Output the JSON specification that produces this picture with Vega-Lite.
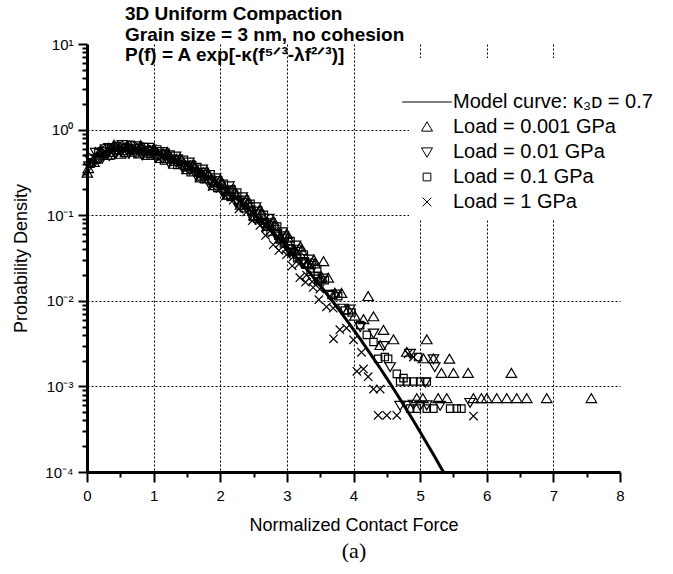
{
"$schema": "https://vega.github.io/schema/vega-lite/v6.json",
"width": 533, "height": 428,
"autosize": {"type": "none"},
"padding": {"left": 87, "top": 44, "right": 53, "bottom": 102},
"background": "white",
"config": {"view": {"stroke": null}, "font": "Liberation Sans"},
"title": {"text": ["3D Uniform Compaction", "Grain size = 3 nm, no cohesion", "P(f) = A exp[-κ(f⁵ᐟ³-λf²ᐟ³)]"], "anchor": "start", "frame": "group", "orient": "top", "offset": 0, "dx": 38, "dy": 28, "baseline": "top", "font": "Liberation Sans", "fontSize": 19, "fontWeight": "bold", "lineHeight": 20.5, "color": "black"},
"datasets": {
"points": [
{"f":0.02,"p":0.35,"s":"0.001"},{"f":0.12,"p":0.455,"s":"0.001"},{"f":0.22,"p":0.552,"s":"0.001"},{"f":0.32,"p":0.542,"s":"0.001"},{"f":0.42,"p":0.626,"s":"0.001"},{"f":0.52,"p":0.568,"s":"0.001"},{"f":0.62,"p":0.618,"s":"0.001"},{"f":0.72,"p":0.577,"s":"0.001"},{"f":0.82,"p":0.593,"s":"0.001"},{"f":0.92,"p":0.529,"s":"0.001"},{"f":1.02,"p":0.566,"s":"0.001"},{"f":1.12,"p":0.491,"s":"0.001"},{"f":1.22,"p":0.494,"s":"0.001"},{"f":1.32,"p":0.424,"s":"0.001"},{"f":1.42,"p":0.437,"s":"0.001"},{"f":1.52,"p":0.366,"s":"0.001"},{"f":1.62,"p":0.355,"s":"0.001"},{"f":1.72,"p":0.286,"s":"0.001"},{"f":1.82,"p":0.294,"s":"0.001"},{"f":1.92,"p":0.241,"s":"0.001"},{"f":2.02,"p":0.233,"s":"0.001"},{"f":2.12,"p":0.173,"s":"0.001"},{"f":2.22,"p":0.18,"s":"0.001"},{"f":2.32,"p":0.139,"s":"0.001"},{"f":2.42,"p":0.137,"s":"0.001"},{"f":2.52,"p":0.096,"s":"0.001"},{"f":2.62,"p":0.103,"s":"0.001"},{"f":2.72,"p":0.0793,"s":"0.001"},{"f":2.82,"p":0.0753,"s":"0.001"},{"f":2.92,"p":0.0525,"s":"0.001"},{"f":3.02,"p":0.0537,"s":"0.001"},{"f":3.12,"p":0.0389,"s":"0.001"},{"f":3.22,"p":0.0386,"s":"0.001"},{"f":3.32,"p":0.0269,"s":"0.001"},{"f":3.42,"p":0.027,"s":"0.001"},{"f":3.52,"p":0.0189,"s":"0.001"},{"f":3.55,"p":0.0286,"s":"0.001"},{"f":3.62,"p":0.0184,"s":"0.001"},{"f":3.72,"p":0.0123,"s":"0.001"},{"f":3.82,"p":0.0122,"s":"0.001"},{"f":3.92,"p":0.0078,"s":"0.001"},{"f":4.02,"p":0.0066,"s":"0.001"},
{"f":0.005,"p":0.31,"s":"0.001"},{"f":0.105,"p":0.414,"s":"0.001"},{"f":0.205,"p":0.573,"s":"0.001"},{"f":0.305,"p":0.5,"s":"0.001"},{"f":0.405,"p":0.659,"s":"0.001"},{"f":0.505,"p":0.514,"s":"0.001"},{"f":0.605,"p":0.643,"s":"0.001"},{"f":0.705,"p":0.544,"s":"0.001"},{"f":0.805,"p":0.648,"s":"0.001"},{"f":0.905,"p":0.499,"s":"0.001"},{"f":1.005,"p":0.592,"s":"0.001"},{"f":1.105,"p":0.459,"s":"0.001"},{"f":1.205,"p":0.542,"s":"0.001"},{"f":1.305,"p":0.393,"s":"0.001"},{"f":1.405,"p":0.454,"s":"0.001"},{"f":1.505,"p":0.34,"s":"0.001"},{"f":1.605,"p":0.384,"s":"0.001"},{"f":1.705,"p":0.272,"s":"0.001"},{"f":1.805,"p":0.319,"s":"0.001"},{"f":1.905,"p":0.221,"s":"0.001"},{"f":2.005,"p":0.256,"s":"0.001"},{"f":2.105,"p":0.171,"s":"0.001"},{"f":2.205,"p":0.198,"s":"0.001"},{"f":2.305,"p":0.131,"s":"0.001"},{"f":2.405,"p":0.153,"s":"0.001"},{"f":2.505,"p":0.0988,"s":"0.001"},{"f":2.605,"p":0.114,"s":"0.001"},{"f":2.705,"p":0.074,"s":"0.001"},{"f":2.805,"p":0.0837,"s":"0.001"},{"f":2.905,"p":0.054,"s":"0.001"},{"f":3.005,"p":0.0594,"s":"0.001"},{"f":3.105,"p":0.0383,"s":"0.001"},{"f":3.205,"p":0.0426,"s":"0.001"},{"f":3.305,"p":0.0266,"s":"0.001"},{"f":3.405,"p":0.0298,"s":"0.001"},{"f":3.505,"p":0.018,"s":"0.001"},
{"f":4.15,"p":0.006,"s":"0.001"},{"f":4.22,"p":0.0112,"s":"0.001"},{"f":4.3,"p":0.0065,"s":"0.001"},{"f":4.4,"p":0.003,"s":"0.001"},{"f":4.45,"p":0.0045,"s":"0.001"},{"f":4.6,"p":0.0035,"s":"0.001"},{"f":4.8,"p":0.0025,"s":"0.001"},{"f":5.05,"p":0.0021,"s":"0.001"},{"f":5.1,"p":0.0035,"s":"0.001"},{"f":5.2,"p":0.0021,"s":"0.001"},{"f":5.44,"p":0.00208,"s":"0.001"},{"f":5.32,"p":0.00142,"s":"0.001"},{"f":5.5,"p":0.00142,"s":"0.001"},{"f":5.72,"p":0.00142,"s":"0.001"},{"f":6.37,"p":0.00142,"s":"0.001"},{"f":4.95,"p":0.00072,"s":"0.001"},{"f":5.04,"p":0.00072,"s":"0.001"},{"f":5.27,"p":0.00072,"s":"0.001"},{"f":5.4,"p":0.00072,"s":"0.001"},{"f":5.8,"p":0.00072,"s":"0.001"},{"f":5.92,"p":0.00072,"s":"0.001"},{"f":6.0,"p":0.00072,"s":"0.001"},{"f":6.15,"p":0.00072,"s":"0.001"},{"f":6.3,"p":0.00072,"s":"0.001"},{"f":6.45,"p":0.00072,"s":"0.001"},{"f":6.6,"p":0.00072,"s":"0.001"},{"f":6.9,"p":0.00072,"s":"0.001"},{"f":7.57,"p":0.00072,"s":"0.001"},
{"f":0.045,"p":0.454,"s":"0.01"},{"f":0.145,"p":0.457,"s":"0.01"},{"f":0.245,"p":0.556,"s":"0.01"},{"f":0.345,"p":0.598,"s":"0.01"},{"f":0.445,"p":0.56,"s":"0.01"},{"f":0.545,"p":0.623,"s":"0.01"},{"f":0.645,"p":0.575,"s":"0.01"},{"f":0.745,"p":0.604,"s":"0.01"},{"f":0.845,"p":0.549,"s":"0.01"},{"f":0.945,"p":0.574,"s":"0.01"},{"f":1.045,"p":0.501,"s":"0.01"},{"f":1.145,"p":0.523,"s":"0.01"},{"f":1.245,"p":0.453,"s":"0.01"},{"f":1.345,"p":0.451,"s":"0.01"},{"f":1.445,"p":0.379,"s":"0.01"},{"f":1.545,"p":0.386,"s":"0.01"},{"f":1.645,"p":0.317,"s":"0.01"},{"f":1.745,"p":0.317,"s":"0.01"},{"f":1.845,"p":0.257,"s":"0.01"},{"f":1.945,"p":0.253,"s":"0.01"},{"f":2.045,"p":0.196,"s":"0.01"},{"f":2.145,"p":0.198,"s":"0.01"},{"f":2.245,"p":0.149,"s":"0.01"},{"f":2.345,"p":0.15,"s":"0.01"},{"f":2.445,"p":0.115,"s":"0.01"},{"f":2.545,"p":0.112,"s":"0.01"},{"f":2.645,"p":0.078,"s":"0.01"},{"f":2.745,"p":0.0815,"s":"0.01"},{"f":2.845,"p":0.0605,"s":"0.01"},{"f":2.945,"p":0.0574,"s":"0.01"},{"f":3.045,"p":0.0372,"s":"0.01"},{"f":3.145,"p":0.0401,"s":"0.01"},{"f":3.245,"p":0.0287,"s":"0.01"},{"f":3.345,"p":0.0276,"s":"0.01"},{"f":3.445,"p":0.0179,"s":"0.01"},{"f":3.545,"p":0.0184,"s":"0.01"},{"f":3.645,"p":0.0119,"s":"0.01"},{"f":3.745,"p":0.012,"s":"0.01"},{"f":3.845,"p":0.0082,"s":"0.01"},{"f":3.945,"p":0.008,"s":"0.01"},
{"f":0.03,"p":0.378,"s":"0.01"},{"f":0.13,"p":0.542,"s":"0.01"},{"f":0.23,"p":0.466,"s":"0.01"},{"f":0.33,"p":0.617,"s":"0.01"},{"f":0.43,"p":0.523,"s":"0.01"},{"f":0.53,"p":0.669,"s":"0.01"},{"f":0.63,"p":0.529,"s":"0.01"},{"f":0.73,"p":0.647,"s":"0.01"},{"f":0.83,"p":0.506,"s":"0.01"},{"f":0.93,"p":0.622,"s":"0.01"},{"f":1.03,"p":0.478,"s":"0.01"},{"f":1.13,"p":0.553,"s":"0.01"},{"f":1.23,"p":0.415,"s":"0.01"},{"f":1.33,"p":0.492,"s":"0.01"},{"f":1.43,"p":0.364,"s":"0.01"},{"f":1.53,"p":0.418,"s":"0.01"},{"f":1.63,"p":0.301,"s":"0.01"},{"f":1.73,"p":0.346,"s":"0.01"},{"f":1.83,"p":0.237,"s":"0.01"},{"f":1.93,"p":0.274,"s":"0.01"},{"f":2.03,"p":0.189,"s":"0.01"},{"f":2.13,"p":0.22,"s":"0.01"},{"f":2.23,"p":0.143,"s":"0.01"},{"f":2.33,"p":0.164,"s":"0.01"},{"f":2.43,"p":0.111,"s":"0.01"},{"f":2.53,"p":0.125,"s":"0.01"},{"f":2.63,"p":0.0802,"s":"0.01"},{"f":2.73,"p":0.0922,"s":"0.01"},{"f":2.83,"p":0.0592,"s":"0.01"},{"f":2.93,"p":0.0638,"s":"0.01"},{"f":3.03,"p":0.0404,"s":"0.01"},{"f":3.13,"p":0.0447,"s":"0.01"},{"f":3.23,"p":0.0284,"s":"0.01"},{"f":3.33,"p":0.0307,"s":"0.01"},{"f":3.43,"p":0.0195,"s":"0.01"},
{"f":4.1,"p":0.005,"s":"0.01"},{"f":4.3,"p":0.0042,"s":"0.01"},{"f":4.45,"p":0.003,"s":"0.01"},{"f":4.55,"p":0.0017,"s":"0.01"},{"f":4.85,"p":0.00244,"s":"0.01"},{"f":5.08,"p":0.00112,"s":"0.01"},{"f":5.2,"p":0.0021,"s":"0.01"},{"f":5.22,"p":0.0017,"s":"0.01"},{"f":4.7,"p":0.0006,"s":"0.01"},{"f":4.8,"p":0.0006,"s":"0.01"},{"f":4.9,"p":0.00062,"s":"0.01"},{"f":5.0,"p":0.0006,"s":"0.01"},{"f":5.1,"p":0.00061,"s":"0.01"},{"f":5.3,"p":0.0006,"s":"0.01"},{"f":5.75,"p":0.00065,"s":"0.01"},
{"f":0.07,"p":0.415,"s":"0.1"},{"f":0.17,"p":0.534,"s":"0.1"},{"f":0.27,"p":0.522,"s":"0.1"},{"f":0.37,"p":0.587,"s":"0.1"},{"f":0.47,"p":0.575,"s":"0.1"},{"f":0.57,"p":0.606,"s":"0.1"},{"f":0.67,"p":0.574,"s":"0.1"},{"f":0.77,"p":0.606,"s":"0.1"},{"f":0.87,"p":0.556,"s":"0.1"},{"f":0.97,"p":0.562,"s":"0.1"},{"f":1.07,"p":0.504,"s":"0.1"},{"f":1.17,"p":0.511,"s":"0.1"},{"f":1.27,"p":0.45,"s":"0.1"},{"f":1.37,"p":0.446,"s":"0.1"},{"f":1.47,"p":0.379,"s":"0.1"},{"f":1.57,"p":0.37,"s":"0.1"},{"f":1.67,"p":0.315,"s":"0.1"},{"f":1.77,"p":0.302,"s":"0.1"},{"f":1.87,"p":0.249,"s":"0.1"},{"f":1.97,"p":0.24,"s":"0.1"},{"f":2.07,"p":0.195,"s":"0.1"},{"f":2.17,"p":0.187,"s":"0.1"},{"f":2.27,"p":0.1455,"s":"0.1"},{"f":2.37,"p":0.142,"s":"0.1"},{"f":2.47,"p":0.11,"s":"0.1"},{"f":2.57,"p":0.1046,"s":"0.1"},{"f":2.67,"p":0.0804,"s":"0.1"},{"f":2.77,"p":0.0759,"s":"0.1"},{"f":2.87,"p":0.0576,"s":"0.1"},{"f":2.97,"p":0.0544,"s":"0.1"},{"f":3.07,"p":0.0372,"s":"0.1"},{"f":3.17,"p":0.0381,"s":"0.1"},{"f":3.27,"p":0.0273,"s":"0.1"},{"f":3.37,"p":0.0261,"s":"0.1"},{"f":3.47,"p":0.0169,"s":"0.1"},{"f":3.57,"p":0.0174,"s":"0.1"},{"f":3.67,"p":0.0117,"s":"0.1"},{"f":3.77,"p":0.0113,"s":"0.1"},{"f":3.87,"p":0.0077,"s":"0.1"},{"f":3.97,"p":0.0073,"s":"0.1"},
{"f":0.055,"p":0.4,"s":"0.1"},{"f":0.155,"p":0.447,"s":"0.1"},{"f":0.255,"p":0.603,"s":"0.1"},{"f":0.355,"p":0.499,"s":"0.1"},{"f":0.455,"p":0.644,"s":"0.1"},{"f":0.555,"p":0.534,"s":"0.1"},{"f":0.655,"p":0.664,"s":"0.1"},{"f":0.755,"p":0.515,"s":"0.1"},{"f":0.855,"p":0.627,"s":"0.1"},{"f":0.955,"p":0.494,"s":"0.1"},{"f":1.055,"p":0.587,"s":"0.1"},{"f":1.155,"p":0.436,"s":"0.1"},{"f":1.255,"p":0.51,"s":"0.1"},{"f":1.355,"p":0.387,"s":"0.1"},{"f":1.455,"p":0.444,"s":"0.1"},{"f":1.555,"p":0.318,"s":"0.1"},{"f":1.655,"p":0.365,"s":"0.1"},{"f":1.755,"p":0.264,"s":"0.1"},{"f":1.855,"p":0.3,"s":"0.1"},{"f":1.955,"p":0.208,"s":"0.1"},{"f":2.055,"p":0.233,"s":"0.1"},{"f":2.155,"p":0.163,"s":"0.1"},{"f":2.255,"p":0.184,"s":"0.1"},{"f":2.355,"p":0.121,"s":"0.1"},{"f":2.455,"p":0.136,"s":"0.1"},{"f":2.555,"p":0.0912,"s":"0.1"},{"f":2.655,"p":0.101,"s":"0.1"},{"f":2.755,"p":0.0644,"s":"0.1"},{"f":2.855,"p":0.0735,"s":"0.1"},{"f":2.955,"p":0.0468,"s":"0.1"},{"f":3.055,"p":0.0499,"s":"0.1"},{"f":3.155,"p":0.0314,"s":"0.1"},{"f":3.255,"p":0.0346,"s":"0.1"},{"f":3.355,"p":0.0218,"s":"0.1"},{"f":3.455,"p":0.0235,"s":"0.1"},
{"f":4.1,"p":0.0052,"s":"0.1"},{"f":4.2,"p":0.004,"s":"0.1"},{"f":4.3,"p":0.0033,"s":"0.1"},{"f":4.37,"p":0.0021,"s":"0.1"},{"f":4.47,"p":0.0022,"s":"0.1"},{"f":4.52,"p":0.0021,"s":"0.1"},{"f":4.65,"p":0.0014,"s":"0.1"},{"f":4.75,"p":0.00125,"s":"0.1"},{"f":4.7,"p":0.00114,"s":"0.1"},{"f":4.8,"p":0.00114,"s":"0.1"},{"f":4.9,"p":0.00114,"s":"0.1"},{"f":5.0,"p":0.00114,"s":"0.1"},{"f":5.1,"p":0.00114,"s":"0.1"},{"f":4.97,"p":0.0022,"s":"0.1"},{"f":4.85,"p":0.00055,"s":"0.1"},{"f":4.95,"p":0.00055,"s":"0.1"},{"f":5.1,"p":0.00055,"s":"0.1"},{"f":5.2,"p":0.00055,"s":"0.1"},{"f":5.45,"p":0.00055,"s":"0.1"},{"f":5.55,"p":0.00055,"s":"0.1"},{"f":5.62,"p":0.00055,"s":"0.1"},
{"f":0.095,"p":0.475,"s":"1"},{"f":0.195,"p":0.491,"s":"1"},{"f":0.295,"p":0.581,"s":"1"},{"f":0.395,"p":0.559,"s":"1"},{"f":0.495,"p":0.626,"s":"1"},{"f":0.595,"p":0.583,"s":"1"},{"f":0.695,"p":0.621,"s":"1"},{"f":0.795,"p":0.557,"s":"1"},{"f":0.895,"p":0.586,"s":"1"},{"f":0.995,"p":0.524,"s":"1"},{"f":1.095,"p":0.539,"s":"1"},{"f":1.195,"p":0.464,"s":"1"},{"f":1.295,"p":0.469,"s":"1"},{"f":1.395,"p":0.404,"s":"1"},{"f":1.495,"p":0.393,"s":"1"},{"f":1.595,"p":0.33,"s":"1"},{"f":1.695,"p":0.326,"s":"1"},{"f":1.795,"p":0.263,"s":"1"},{"f":1.895,"p":0.256,"s":"1"},{"f":1.995,"p":0.204,"s":"1"},{"f":2.095,"p":0.196,"s":"1"},{"f":2.195,"p":0.15,"s":"1"},{"f":2.295,"p":0.1443,"s":"1"},{"f":2.395,"p":0.109,"s":"1"},{"f":2.495,"p":0.1035,"s":"1"},{"f":2.595,"p":0.076,"s":"1"},{"f":2.695,"p":0.0715,"s":"1"},{"f":2.795,"p":0.0453,"s":"1"},{"f":2.895,"p":0.0471,"s":"1"},{"f":2.995,"p":0.0346,"s":"1"},{"f":3.095,"p":0.0326,"s":"1"},{"f":3.195,"p":0.0186,"s":"1"},{"f":3.295,"p":0.02,"s":"1"},{"f":3.395,"p":0.0143,"s":"1"},{"f":3.495,"p":0.0137,"s":"1"},{"f":3.595,"p":0.0085,"s":"1"},{"f":3.695,"p":0.0082,"s":"1"},{"f":3.795,"p":0.0046,"s":"1"},{"f":3.895,"p":0.0048,"s":"1"},
{"f":0.08,"p":0.411,"s":"1"},{"f":0.18,"p":0.56,"s":"1"},{"f":0.28,"p":0.481,"s":"1"},{"f":0.38,"p":0.629,"s":"1"},{"f":0.48,"p":0.529,"s":"1"},{"f":0.58,"p":0.665,"s":"1"},{"f":0.68,"p":0.521,"s":"1"},{"f":0.78,"p":0.64,"s":"1"},{"f":0.88,"p":0.509,"s":"1"},{"f":0.98,"p":0.598,"s":"1"},{"f":1.08,"p":0.455,"s":"1"},{"f":1.18,"p":0.537,"s":"1"},{"f":1.28,"p":0.41,"s":"1"},{"f":1.38,"p":0.456,"s":"1"},{"f":1.48,"p":0.341,"s":"1"},{"f":1.58,"p":0.38,"s":"1"},{"f":1.68,"p":0.28,"s":"1"},{"f":1.78,"p":0.299,"s":"1"},{"f":1.88,"p":0.216,"s":"1"},{"f":1.98,"p":0.235,"s":"1"},{"f":2.08,"p":0.167,"s":"1"},{"f":2.18,"p":0.171,"s":"1"},{"f":2.28,"p":0.118,"s":"1"},{"f":2.38,"p":0.127,"s":"1"},{"f":2.48,"p":0.0864,"s":"1"},{"f":2.58,"p":0.0872,"s":"1"},{"f":2.68,"p":0.058,"s":"1"},{"f":2.78,"p":0.0616,"s":"1"},{"f":2.88,"p":0.0388,"s":"1"},{"f":2.98,"p":0.04,"s":"1"},{"f":3.08,"p":0.0256,"s":"1"},{"f":3.18,"p":0.0269,"s":"1"},{"f":3.28,"p":0.0165,"s":"1"},{"f":3.38,"p":0.0167,"s":"1"},{"f":3.48,"p":0.0103,"s":"1"},
{"f":3.7,"p":0.0036,"s":"1"},{"f":4.0,"p":0.0035,"s":"1"},{"f":4.05,"p":0.0015,"s":"1"},{"f":4.12,"p":0.0025,"s":"1"},{"f":4.15,"p":0.0016,"s":"1"},{"f":4.22,"p":0.0013,"s":"1"},{"f":4.3,"p":0.00093,"s":"1"},{"f":4.4,"p":0.00093,"s":"1"},{"f":4.37,"p":0.00046,"s":"1"},{"f":4.5,"p":0.00046,"s":"1"},{"f":4.65,"p":0.00046,"s":"1"},{"f":4.82,"p":0.0024,"s":"1"},{"f":4.9,"p":0.0022,"s":"1"},{"f":5.8,"p":0.00045,"s":"1"}
],
"curve": [
{"f":0,"p":0.38},{"f":0.025,"p":0.415},{"f":0.05,"p":0.436},{"f":0.1,"p":0.469},{"f":0.2,"p":0.519},{"f":0.3,"p":0.554},{"f":0.4,"p":0.577},{"f":0.5,"p":0.591},{"f":0.6,"p":0.595},{"f":0.7,"p":0.591},{"f":0.8,"p":0.58},{"f":0.9,"p":0.562},{"f":1.0,"p":0.539},{"f":1.1,"p":0.512},{"f":1.2,"p":0.482},{"f":1.3,"p":0.449},{"f":1.4,"p":0.415},{"f":1.5,"p":0.38},{"f":1.6,"p":0.345},{"f":1.7,"p":0.311},{"f":1.8,"p":0.2785},{"f":1.9,"p":0.2473},{"f":2.0,"p":0.218},{"f":2.1,"p":0.1908},{"f":2.2,"p":0.1659},{"f":2.3,"p":0.1432},{"f":2.4,"p":0.1229},{"f":2.5,"p":0.1047},{"f":2.6,"p":0.0886},{"f":2.7,"p":0.0746},{"f":2.8,"p":0.0623},{"f":2.9,"p":0.0518},{"f":3.0,"p":0.0428},{"f":3.1,"p":0.0351},{"f":3.2,"p":0.0287},{"f":3.3,"p":0.0233},{"f":3.4,"p":0.0188},{"f":3.5,"p":0.0151},{"f":3.6,"p":0.012},{"f":3.7,"p":0.00955},{"f":3.8,"p":0.00754},{"f":3.9,"p":0.00592},{"f":4.0,"p":0.00462},{"f":4.1,"p":0.00359},{"f":4.2,"p":0.00277},{"f":4.3,"p":0.00213},{"f":4.4,"p":0.00163},{"f":4.5,"p":0.00124},{"f":4.6,"p":0.00094},{"f":4.7,"p":0.000708},{"f":4.8,"p":0.000531},{"f":4.9,"p":0.000396},{"f":5.0,"p":0.000294},{"f":5.1,"p":0.000217},{"f":5.2,"p":0.00016},{"f":5.3,"p":0.000117},{"f":5.35,"p":0.0001}
]
},
"encoding": {
"y": {"field": "p", "type": "quantitative", "scale": {"type": "log", "domain": [0.0001, 10], "nice": false},
"axis": {"values": [0.0001,0.0002,0.0003,0.0004,0.0005,0.0006,0.0007,0.0008,0.0009,0.001,0.002,0.003,0.004,0.005,0.006,0.007,0.008,0.009,0.01,0.02,0.03,0.04,0.05,0.06,0.07,0.08,0.09,0.1,0.2,0.3,0.4,0.5,0.6,0.7,0.8,0.9,1,2,3,4,5,6,7,8,9,10],
"title": "Probability Density", "titleFont": "Liberation Sans", "titleFontSize": 18, "titleFontWeight": "normal", "titleColor": "black", "titlePadding": 14,
"labelExpr": "abs(log(datum.value)/LN10 - round(log(datum.value)/LN10)) < 0.001 ? '10' + ['⁻⁴','⁻³','⁻²','⁻¹','⁰','¹'][round(log(datum.value)/LN10) + 4] : ''",
"labelFont": "Liberation Sans", "labelFontSize": 15, "labelColor": "black", "labelPadding": 5, "labelOverlap": false, "labelFlush": false,
"domainColor": "black", "domainWidth": 3, "tickColor": "black", "tickWidth": 2,
"tickSize": {"condition": {"test": "abs(log(datum.value)/LN10 - round(log(datum.value)/LN10)) < 0.001", "value": 9}, "value": 5},
"grid": true, "gridColor": "black", "gridDash": [2, 2], "gridWidth": 1,
"gridOpacity": {"condition": {"test": "abs(log(datum.value)/LN10 - round(log(datum.value)/LN10)) < 0.001 && datum.value > 0.0005 && datum.value < 5", "value": 1}, "value": 0}}}
},
"layer": [
{"data": {"name": "points"},
"mark": {"type": "point", "filled": false, "stroke": "black", "strokeWidth": 1.2, "size": 110, "opacity": 1},
"encoding": {
"x": {"field": "f", "type": "quantitative", "scale": {"domain": [0, 8], "nice": false},
"axis": {"values": [0,0.5,1,1.5,2,2.5,3,3.5,4,4.5,5,5.5,6,6.5,7,7.5,8], "orient": "bottom",
"title": "Normalized Contact Force", "titleFont": "Liberation Sans", "titleFontSize": 18, "titleFontWeight": "normal", "titleColor": "black", "titlePadding": 13,
"labelExpr": "datum.value % 1 == 0 ? format(datum.value, 'd') : ''", "labelFont": "Liberation Sans", "labelFontSize": 15, "labelColor": "black", "labelPadding": 6, "labelFlush": false, "labelOverlap": false,
"domainColor": "black", "domainWidth": 3, "tickColor": "black", "tickWidth": 2,
"tickSize": {"condition": {"test": "datum.value % 1 != 0", "value": 5}, "value": 10},
"grid": true, "gridColor": "black", "gridDash": [2, 2], "gridWidth": 1,
"gridOpacity": {"condition": {"test": "datum.value % 1 != 0 || datum.value == 0 || datum.value == 8", "value": 0}, "value": 1}}},
"shape": {"field": "s", "type": "nominal",
"scale": {"domain": ["model", "0.001", "0.01", "0.1", "1"], "range": ["M -4.5 0 L 4.5 0", "M -1 0.75 L 1 0.75 L 0 -0.95 Z", "M -1 -0.75 L 1 -0.75 L 0 0.95 Z", "M -0.7 -0.7 L 0.7 -0.7 L 0.7 0.7 L -0.7 0.7 Z", "M -0.8 -0.8 L 0.8 0.8 M -0.8 0.8 L 0.8 -0.8"]},
"legend": {"orient": "none", "legendX": 322, "legendY": 14, "title": " ", "titleFontSize": 20, "titlePadding": 6, "fillColor": "white", "padding": 8,
"labelExpr": "datum.value == 'model' ? 'Model curve: κ₃ᴅ = 0.7' : 'Load = ' + datum.value + ' GPa'",
"labelFont": "Liberation Sans", "labelFontSize": 20, "labelColor": "black", "labelOffset": 16, "labelLimit": 400,
"symbolSize": 121, "symbolStrokeColor": "black", "symbolStrokeWidth": 1, "symbolFillColor": "transparent", "rowPadding": 5,
"encode": {"symbols": {"update": {"strokeWidth": {"signal": "datum.value == 'model' ? 2.5 : 1"}}}}}}
}},
{"data": {"name": "curve"},
"mark": {"type": "line", "color": "black", "strokeWidth": 3},
"encoding": {
"x": {"field": "f", "type": "quantitative", "scale": {"domain": [0, 8], "nice": false},
"axis": {"orient": "bottom", "title": "(a)", "domain": false, "ticks": false, "labels": false, "grid": false, "titleFont": "Liberation Serif", "titleFontSize": 22, "titleFontWeight": "normal", "titleColor": "black", "titlePadding": 68}}
}}
],
"resolve": {"axis": {"x": "independent"}}
}
